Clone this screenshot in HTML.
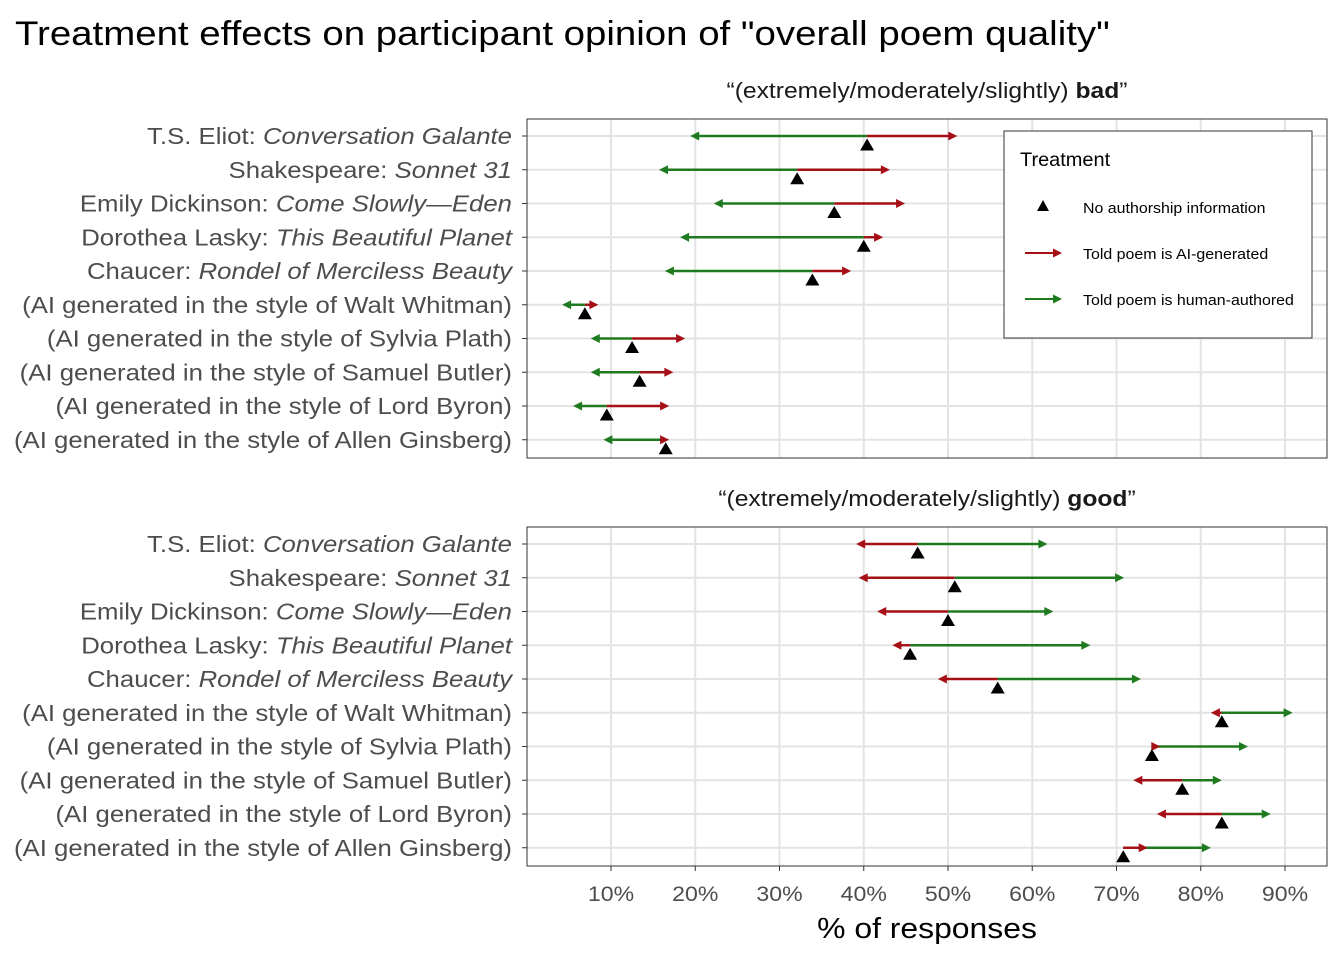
<!DOCTYPE html>
<html><head><meta charset="utf-8"><style>
body{margin:0;background:#fff;font-family:"Liberation Sans",Arial,sans-serif}
svg text{font-family:"Liberation Sans",Arial,sans-serif}
</style></head><body>
<svg id="chart" width="1344" height="960" xmlns="http://www.w3.org/2000/svg">
<text transform="translate(15 45) scale(1.13 1)" font-size="34" fill="#000">Treatment effects on participant opinion of "overall poem quality"</text>
<text transform="translate(927 98) scale(1.12 1)" font-size="22" text-anchor="middle" fill="#1a1a1a">“(extremely/moderately/slightly) <tspan font-weight="bold">bad</tspan>”</text>
<text transform="translate(927 506) scale(1.12 1)" font-size="22" text-anchor="middle" fill="#1a1a1a">“(extremely/moderately/slightly) <tspan font-weight="bold">good</tspan>”</text>
<g id="plot"></g>
<text transform="translate(927 938) scale(1.1 1)" font-size="29" text-anchor="middle" fill="#000">% of responses</text>
<g>
<rect x="1004" y="131" width="308" height="207" fill="#fff" stroke="#333" stroke-width="1"/>
<text transform="translate(1020 166) scale(1.05 1)" font-size="19" fill="#000">Treatment</text>
<g><path d="M1043,200 L1049,211 L1037,211 Z" fill="#000"/><text transform="translate(1083 213) scale(1.1 1)" font-size="14.5">No authorship information</text></g>
<g><line x1="1025" y1="253" x2="1055" y2="253" stroke="#a50f15" stroke-width="2"/><path d="M1062,253 L1053,248.5 L1053,257.5 Z" fill="#a50f15"/><text transform="translate(1083 259) scale(1.1 1)" font-size="14.5">Told poem is AI-generated</text></g>
<g><line x1="1025" y1="299" x2="1055" y2="299" stroke="#1f7a1f" stroke-width="2"/><path d="M1062,299 L1053,294.5 L1053,303.5 Z" fill="#1f7a1f"/><text transform="translate(1083 305) scale(1.1 1)" font-size="14.5">Told poem is human-authored</text></g>
</g>
</svg>
<script>
const categories=[["T.S. Eliot: ","Conversation Galante"],["Shakespeare: ","Sonnet 31"],["Emily Dickinson: ","Come Slowly—Eden"],["Dorothea Lasky: ","This Beautiful Planet"],["Chaucer: ","Rondel of Merciless Beauty"],["(AI generated in the style of Walt Whitman)",""],["(AI generated in the style of Sylvia Plath)",""],["(AI generated in the style of Samuel Butler)",""],["(AI generated in the style of Lord Byron)",""],["(AI generated in the style of Allen Ginsberg)",""]];
const badNone=[40.4,32.1,36.5,40.0,33.9,6.9,12.5,13.4,9.5,16.5];
const badAI=[51.1,43.1,44.9,42.3,38.5,8.5,18.8,17.4,16.9,16.9];
const badHuman=[19.4,15.7,22.2,18.2,16.4,4.2,7.6,7.6,5.5,9.1];
const goodNone=[46.4,50.8,50.0,45.5,55.9,82.5,74.2,77.8,82.5,70.8];
const goodAI=[39.1,39.4,41.6,43.4,48.8,81.2,75.2,72.0,74.8,73.7];
const goodHuman=[61.8,70.9,62.5,66.9,72.9,90.9,85.6,82.5,88.3,81.2];
const xTicks=[10,20,30,40,50,60,70,80,90];
const NS="http://www.w3.org/2000/svg";
const g=document.getElementById('plot');
const X=v=>611+(v-10)*8.425;
function mk(t,a,parent){const e=document.createElementNS(NS,t);for(const k in a)e.setAttribute(k,a[k]);(parent||g).appendChild(e);return e;}
function panel(top,none,ai,hum,name){
  const bottom=top+339,L=527,R=1327;
  const pg=mk('g',{});
  
  
  for(let v=10;v<=90;v+=10){mk('line',{x1:X(v),x2:X(v),y1:top,y2:bottom,stroke:'#e3e3e3','stroke-width':2},pg);}
  const Y=i=>top+17+i*33.75;
  categories.forEach((c,i)=>{
    mk('line',{x1:L,x2:R,y1:Y(i),y2:Y(i),stroke:'#e3e3e3','stroke-width':2},pg);
    mk('line',{x1:L-5,x2:L,y1:Y(i),y2:Y(i),stroke:'#333','stroke-width':1},pg);
    const t=mk('text',{transform:`translate(512 ${Y(i)+8}) scale(1.12 1)`,'font-size':23,'text-anchor':'end',fill:'#4d4d4d'},pg);
    
    
    const s1=mk('tspan',{},t);s1.textContent=c[0];
    if(c[1]){const s2=mk('tspan',{'font-style':'italic'},t);s2.textContent=c[1];}
  });
  mk('rect',{x:L,y:top,width:R-L,height:bottom-top,fill:'none',stroke:'#333','stroke-width':1},pg);
  function arrow(i,from,to,col,nm){
    const y=Y(i),x1=X(from),x2=X(to),d=x2>x1?1:-1;
    const l=mk('line',{x1:x1,x2:x2-d*6,y1:y,y2:y,stroke:col,'stroke-width':2.4},pg);
    
    
    mk('path',{d:`M${x2},${y} L${x2-d*9},${y-4.5} L${x2-d*9},${y+4.5} Z`,fill:col},pg);
  }
  categories.forEach((c,i)=>{
    arrow(i,none[i],hum[i],'#1f7a1f','human-arrow');
    arrow(i,none[i],ai[i],'#a50f15','ai-arrow');
    const x=X(none[i]),y=Y(i)+9;
    const p=mk('path',{d:`M${x},${y-6.5} L${x+7},${y+5.5} L${x-7},${y+5.5} Z`,fill:'#000'},pg);
    
    
  });
  return bottom;
}
panel(119,badNone,badAI,badHuman,'panel-bad');
const b=panel(527,goodNone,goodAI,goodHuman,'panel-good');
xTicks.forEach(v=>{
  mk('line',{x1:X(v),x2:X(v),y1:b,y2:b+5,stroke:'#333','stroke-width':1});
  const t=mk('text',{transform:`translate(${X(v)} ${b+35}) scale(1.1 1)`,'font-size':21,'text-anchor':'middle',fill:'#4d4d4d'});
  
  
  t.textContent=v+'%';
});
</script>
</body></html>
